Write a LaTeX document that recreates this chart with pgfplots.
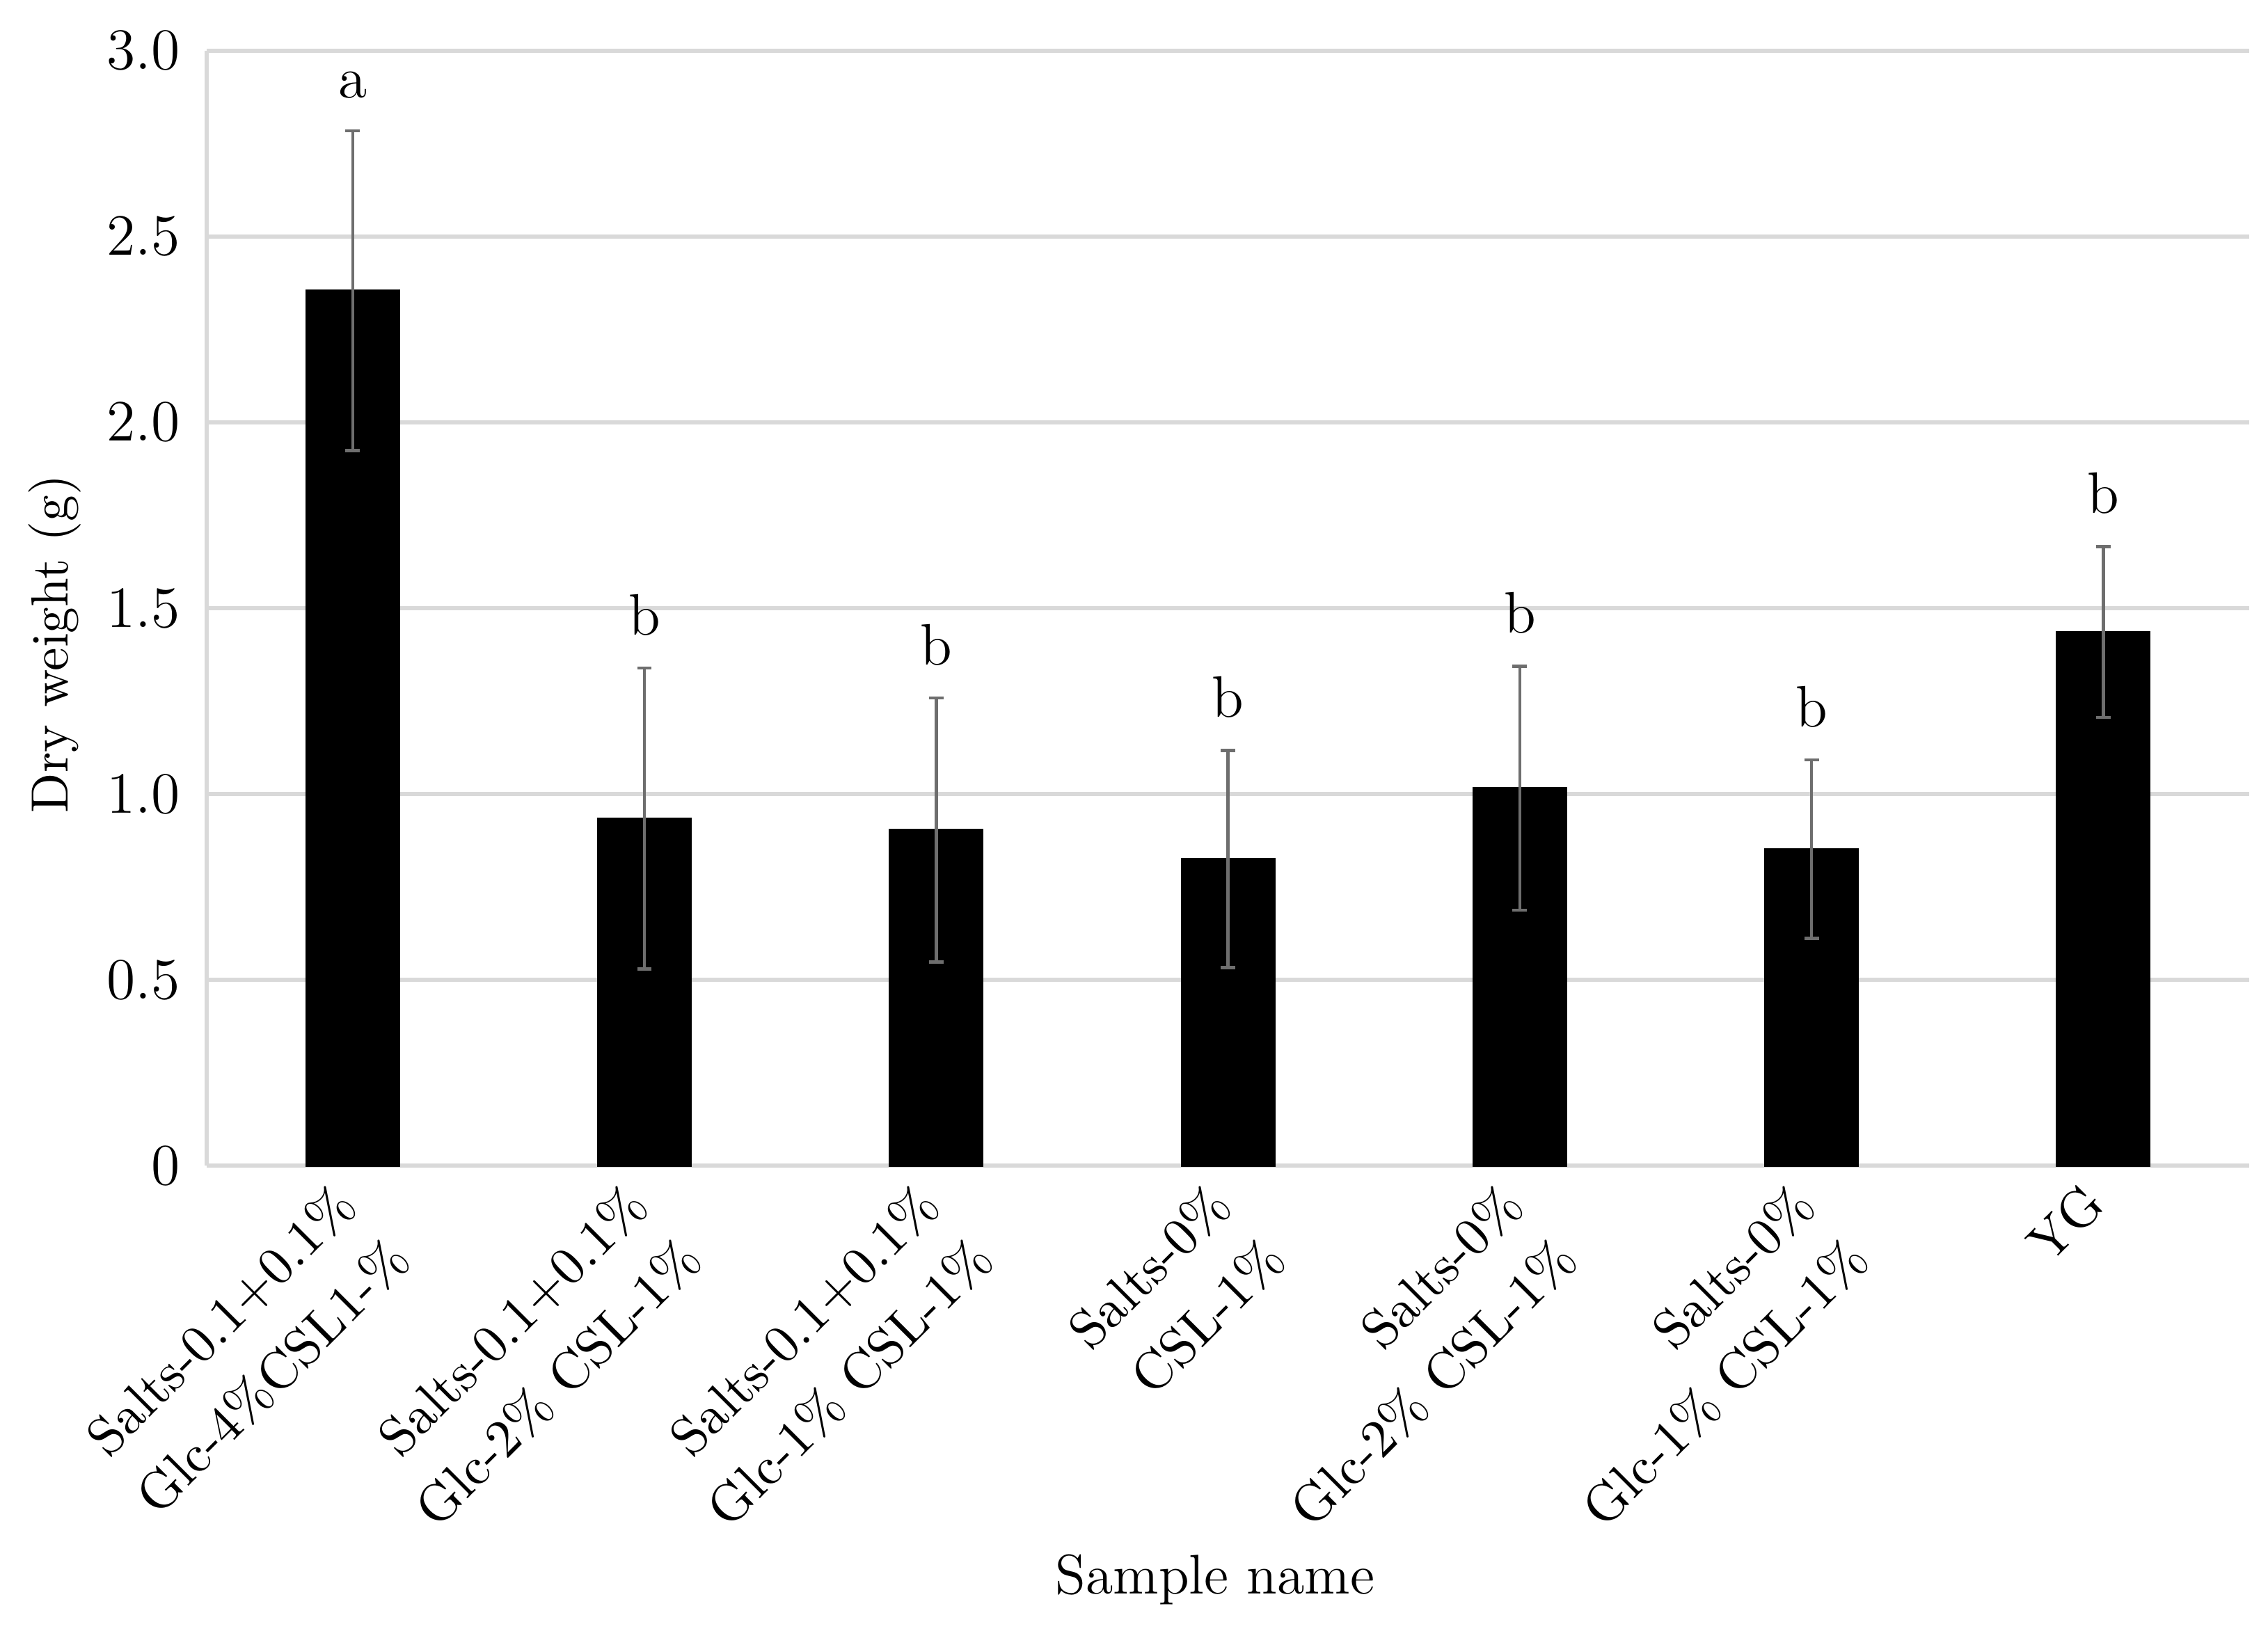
\documentclass[border=0pt]{standalone}
\usepackage{pgfplots}
\pgfplotsset{compat=1.18}
\definecolor{gridc}{HTML}{D9D9D9}
\definecolor{errc}{HTML}{6E6E6E}
\begin{document}
\begin{tikzpicture}
\useasboundingbox (-1.43cm,-3.20cm) rectangle (14.25cm,8.06cm);
\begin{axis}[
  at={(0,0)}, anchor=south west,
  scale only axis,
  width=14.12cm, height=7.71cm,
  xmin=-0.5, xmax=6.5,
  ymin=0, ymax=3,
  axis x line*=bottom, axis y line*=left,
  axis line style={gridc, line width=0.8pt},
  x axis line style={-}, y axis line style={-},
  ytick={0,0.5,1,1.5,2,2.5,3},
  yticklabels={0,0.5,1.0,1.5,2.0,2.5,3.0},
  ymajorgrids, grid style={gridc, line width=0.8pt},
  major tick length=0pt,
  xtick={0,1,2,3,4,5,6},
  xticklabels={{Salts-0.1+0.1\%\\Glc-4\%CSL1-\%},{Salts-0.1+0.1\%\\Glc-2\% CSL-1\%},{Salts-0.1+0.1\%\\Glc-1\% CSL-1\%},{Salts-0\%\\CSL-1\%},{Salts-0\%\\Glc-2\% CSL-1\%},{Salts-0\%\\Glc-1\% CSL-1\%},{YG}},
  xticklabel style={rotate=45, anchor=north east, align=right, font=\fontsize{10.5}{15}\selectfont, inner sep=1pt, yshift=0.08cm, xshift=-0.14cm},
  yticklabel style={font=\fontsize{11.5}{13}\selectfont, /pgf/number format/assume math mode=true},
  yticklabel style={xshift=-0.06cm},
  xlabel={Sample name},
  ylabel={Dry weight (g)},
  xlabel style={at={(axis description cs:0.4936,-0.371)}, anchor=center, font=\fontsize{11}{13}\selectfont},
  ylabel style={at={(axis description cs:-0.0744,0.468)}, anchor=center, rotate=0, font=\fontsize{10.3}{12}\selectfont},
  clip=false,
]
\addplot[ybar, bar width=0.64cm, fill=black, draw=black,
  error bars/.cd, y dir=both, y explicit,
  error bar style={errc, line width=0.6pt},
  error mark options={errc, rotate=90, mark size=0.05cm, line width=0.6pt}]
coordinates {
  (0,2.354) +- (0,0.43)
  (1,0.934) +- (0,0.405)
  (2,0.903) +- (0,0.355)
  (3,0.825) +- (0,0.292)
  (4,1.016) +- (0,0.328)
  (5,0.852) +- (0,0.240)
  (6,1.436) +- (0,0.230)
};
\node[anchor=base, yshift=0.23cm, font=\fontsize{11.5}{13}\selectfont] at (axis cs:0,2.784) {a};
\node[anchor=base, yshift=0.23cm, font=\fontsize{11.5}{13}\selectfont] at (axis cs:1,1.339) {b};
\node[anchor=base, yshift=0.23cm, font=\fontsize{11.5}{13}\selectfont] at (axis cs:2,1.258) {b};
\node[anchor=base, yshift=0.23cm, font=\fontsize{11.5}{13}\selectfont] at (axis cs:3,1.117) {b};
\node[anchor=base, yshift=0.23cm, font=\fontsize{11.5}{13}\selectfont] at (axis cs:4,1.344) {b};
\node[anchor=base, yshift=0.23cm, font=\fontsize{11.5}{13}\selectfont] at (axis cs:5,1.092) {b};
\node[anchor=base, yshift=0.23cm, font=\fontsize{11.5}{13}\selectfont] at (axis cs:6,1.666) {b};
\end{axis}
\end{tikzpicture}
\end{document}
